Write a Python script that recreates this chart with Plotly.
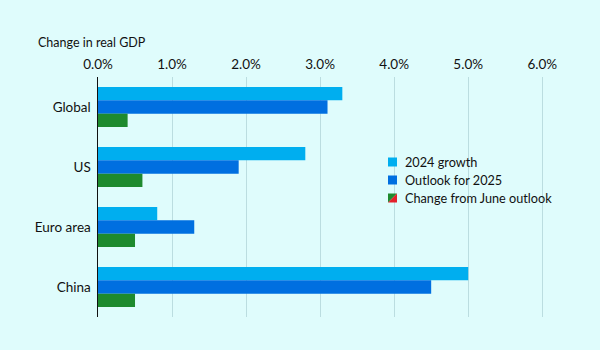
import plotly.graph_objects as go

categories = ["Global", "US", "Euro area", "China"]
growth_2024 = [3.3, 2.8, 0.8, 5.0]
outlook_2025 = [3.1, 1.9, 1.3, 4.5]
change_june = [0.4, 0.6, 0.5, 0.5]
tick_vals = [0, 1, 2, 3, 4, 5, 6]
tick_text = ["0.0%", "1.0%", "2.0%", "3.0%", "4.0%", "5.0%", "6.0%"]
legend_names = ["2024 growth", "Outlook for 2025", "Change from June outlook"]

C1, C2, C3, RED = "#00AEEF", "#006FE0", "#1E8A2E", "#E3202B"
BG = "#DFFCFC"
FONT = "Lato"
TXT = "#111111"

fig = go.Figure()
for name, vals, col in [(legend_names[0], growth_2024, C1),
                        (legend_names[1], outlook_2025, C2),
                        (legend_names[2], change_june, C3)]:
    fig.add_trace(go.Bar(y=categories, x=vals, orientation="h", name=name,
                         marker=dict(color=col, line=dict(width=0)), showlegend=False))

L, R, T, B = 98, 20, 77, 33
W, H = 600, 350
pw, ph = W - L - R, H - T - B

def px(x):
    return (x - L) / pw

def py(y):
    return (H - B - y) / ph

shapes = []
annotations = []
rows = [162, 180, 198]
sx0, sx1 = 388, 397
for i, (name, yc) in enumerate(zip(legend_names, rows)):
    y0, y1 = yc - 4.5, yc + 4.5
    if i < 2:
        shapes.append(dict(type="rect", xref="paper", yref="paper",
                           x0=px(sx0), x1=px(sx1), y0=py(y1), y1=py(y0),
                           fillcolor=[C1, C2][i], line=dict(width=0)))
    else:
        shapes.append(dict(type="path", xref="paper", yref="paper",
                           path=f"M {px(sx0)} {py(y0)} L {px(sx1)} {py(y0)} L {px(sx0)} {py(y1)} Z",
                           fillcolor=C3, line=dict(width=0)))
        shapes.append(dict(type="path", xref="paper", yref="paper",
                           path=f"M {px(sx1)} {py(y0)} L {px(sx1)} {py(y1)} L {px(sx0)} {py(y1)} Z",
                           fillcolor=RED, line=dict(width=0)))
    annotations.append(dict(text=name, xref="paper", yref="paper", x=px(403), y=py(yc),
                            xanchor="left", yanchor="middle", showarrow=False,
                            font=dict(family=FONT, size=12.7, color=TXT)))

annotations.append(dict(text="Change in real GDP", xref="paper", yref="paper",
                        x=px(36), y=py(42), xanchor="left", yanchor="middle",
                        showarrow=False, font=dict(family=FONT, size=12.5, color=TXT)))

fig.update_layout(
    width=W, height=H,
    margin=dict(l=L, r=R, t=T, b=B),
    paper_bgcolor=BG, plot_bgcolor=BG,
    barmode="group", bargap=0.333, bargroupgap=0,
    font=dict(family=FONT, size=13, color=TXT),
    shapes=shapes, annotations=annotations,
    xaxis=dict(side="top", range=[0, 6.51], tickvals=tick_vals, ticktext=tick_text,
               showgrid=True, gridcolor="#BBDDE0", gridwidth=1, zeroline=False,
               ticks="", showline=False, tickfont=dict(size=13.5, color=TXT),
               ticklabelstandoff=4),
    yaxis=dict(autorange="reversed", showline=True, linecolor="#111111", linewidth=1.2,
               showgrid=False, ticks="", ticksuffix=" ", tickfont=dict(size=13.5, color=TXT)),
)

fig.write_html("out.html")
